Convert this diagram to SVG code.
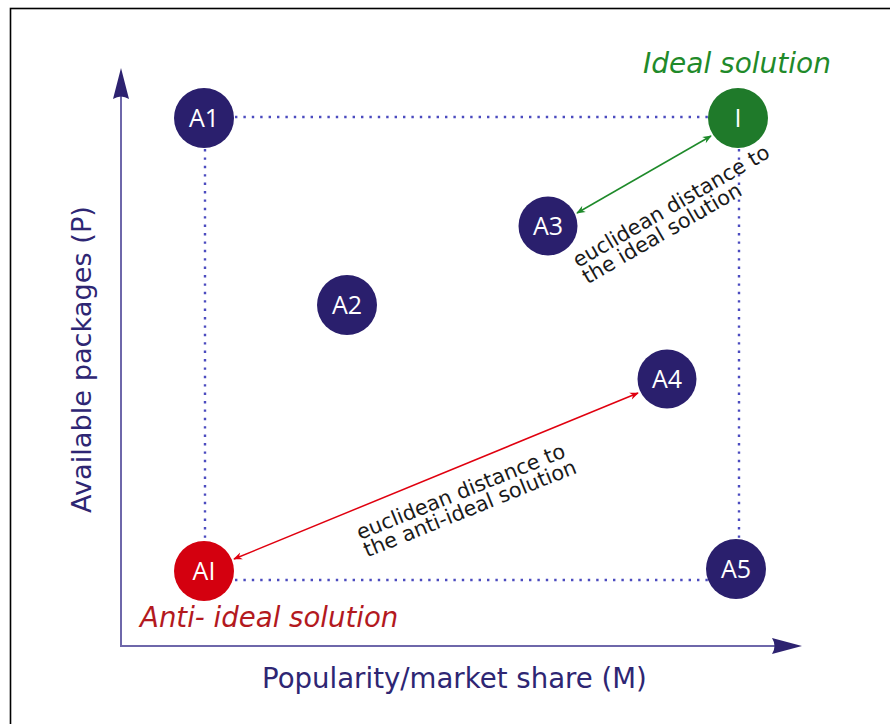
<svg xmlns="http://www.w3.org/2000/svg" width="890" height="724" viewBox="0 0 890 724">
<style>
  .node-navy { fill: #2a1f6d; }
  .lbl { font-family: "Open Sans", "DejaVu Sans", sans-serif; font-size: 25px; fill: #ffffff; text-anchor: middle; }
  .dot { stroke: #4b4bbf; stroke-width: 2.4; stroke-dasharray: 2.4 6; fill: none; }
  .axis { stroke: #6e67aa; stroke-width: 2; fill: none; }
  .axlbl { font-family: "DejaVu Sans", sans-serif; font-size: 27.6px; fill: #2e2673; }
  .dist { font-family: "DejaVu Sans", sans-serif; font-size: 20.8px; fill: #1a1a1a; }
  .sol { font-family: "DejaVu Sans", sans-serif; font-style: italic; }
</style>
<defs>
  <marker id="ag" viewBox="0 0 10 10" refX="9" refY="5" markerWidth="11" markerHeight="9" markerUnits="userSpaceOnUse" orient="auto-start-reverse">
    <path d="M0,1 L10,5 L0,9 L3,5 Z" fill="#1e8a2a"/>
  </marker>
  <marker id="ar" viewBox="0 0 10 10" refX="9" refY="5" markerWidth="11" markerHeight="9" markerUnits="userSpaceOnUse" orient="auto-start-reverse">
    <path d="M0,1 L10,5 L0,9 L3,5 Z" fill="#e0000f"/>
  </marker>
</defs>
<rect x="0" y="0" width="890" height="724" fill="#ffffff"/>
<rect x="10.5" y="8.5" width="900" height="800" fill="none" stroke="#000000" stroke-width="1.6"/>

<g id="axes">
  <line class="axis" x1="121" y1="647" x2="121" y2="92"/>
  <line class="axis" x1="120" y1="646" x2="780" y2="646"/>
  <path d="M121,68 L129,99 Q121,94 113,99 Z" fill="#2d2270"/>
  <path d="M802,646 L772,654 Q777,646 772,638 Z" fill="#2d2270"/>
  <text class="axlbl" x="262" y="688">Popularity/market share (M)</text>
  <text class="axlbl" transform="translate(91,513) rotate(-90)" style="font-size:27.2px">Available packages (P)</text>
</g>

<g id="connectors">
  <line class="dot" x1="235" y1="117" x2="708" y2="117"/>
  <line class="dot" x1="205" y1="149" x2="205" y2="540"/>
  <line class="dot" x1="739" y1="149" x2="739" y2="539"/>
  <line class="dot" x1="235" y1="580" x2="708" y2="580"/>
  <line x1="711" y1="136" x2="577" y2="213" stroke="#1e8a2a" stroke-width="1.5" marker-start="url(#ag)" marker-end="url(#ag)"/>
  <line x1="638" y1="393" x2="234" y2="559" stroke="#e0000f" stroke-width="1.5" marker-start="url(#ar)" marker-end="url(#ar)"/>
</g>

<g id="label-ideal-distance" transform="translate(578,268) rotate(-30)">
  <text class="dist" x="0" y="0">euclidean distance to</text>
  <text class="dist" x="0" y="19">the ideal solution</text>
</g>
<g id="label-anti-distance" transform="translate(360,540) rotate(-22)">
  <text class="dist" x="0" y="0">euclidean distance to</text>
  <text class="dist" x="0" y="19">the anti-ideal solution</text>
</g>

<g id="node-A1"><circle class="node-navy" cx="204" cy="118" r="30"/><text class="lbl" x="204" y="127">A1</text></g>
<g id="node-I"><circle cx="738" cy="118" r="30" fill="#1f7a2a"/><text class="lbl" x="738" y="127">I</text></g>
<g id="node-A3"><circle class="node-navy" cx="548" cy="226" r="29.5"/><text class="lbl" x="548" y="235">A3</text></g>
<g id="node-A2"><circle class="node-navy" cx="347" cy="305" r="30"/><text class="lbl" x="347" y="314">A2</text></g>
<g id="node-A4"><circle class="node-navy" cx="667" cy="379" r="29.5"/><text class="lbl" x="667" y="388">A4</text></g>
<g id="node-AI"><circle cx="204" cy="571" r="30" fill="#d4000f"/><text class="lbl" x="204" y="580">AI</text></g>
<g id="node-A5"><circle class="node-navy" cx="736" cy="569" r="30"/><text class="lbl" x="736" y="578">A5</text></g>

<text id="ideal-solution" class="sol" x="643" y="73" fill="#1f8a2a" style="font-size:28px">Ideal solution</text>
<text id="anti-ideal-solution" class="sol" x="140" y="627" fill="#b3191e" style="font-size:27.6px">Anti- ideal solution</text>
</svg>
